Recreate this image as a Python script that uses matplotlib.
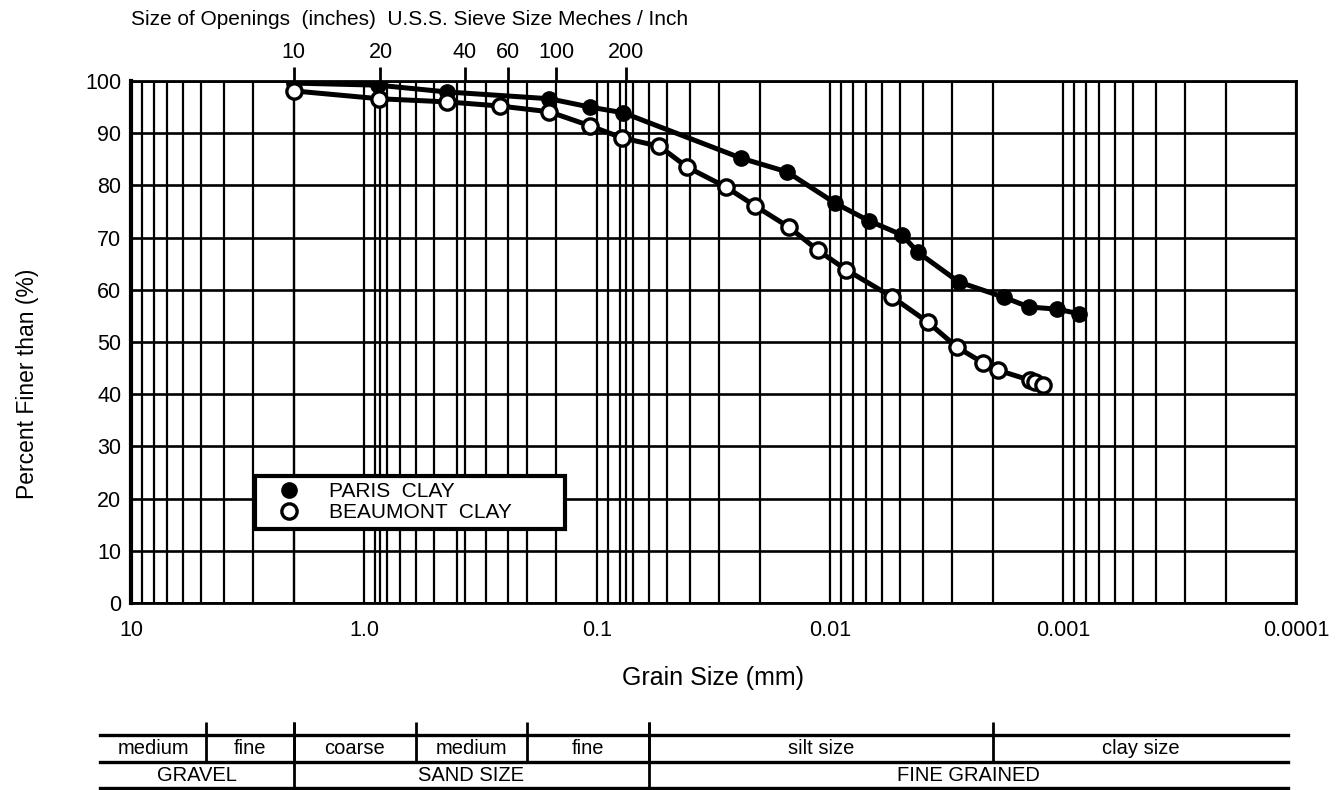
import matplotlib.pyplot as plt
from matplotlib.lines import Line2D
from matplotlib.ticker import LogLocator, NullFormatter, NullLocator

plt.rcParams['font.family'] = ['Liberation Sans', 'DejaVu Sans']

# grain size (mm) vs percent finer for the two clays
paris_mm = [2.0, 0.87, 0.44, 0.16, 0.107, 0.077, 0.024, 0.0153, 0.0095, 0.0068,
            0.0049, 0.0042, 0.0028, 0.0018, 0.0014, 0.00106, 0.00085]
paris_pct = [99.6, 99.2, 97.9, 96.6, 95.0, 93.9, 85.2, 82.6, 76.6, 73.2,
             70.5, 67.2, 61.5, 58.6, 56.7, 56.3, 55.4]

beaumont_mm = [2.0, 0.86, 0.44, 0.26, 0.16, 0.107, 0.078, 0.054, 0.041, 0.028,
               0.021, 0.015, 0.0113, 0.0085, 0.0054, 0.0038, 0.00285, 0.0022,
               0.0019, 0.00139, 0.00132, 0.00122]
beaumont_pct = [98.1, 96.6, 96.0, 95.2, 94.1, 91.4, 89.1, 87.5, 83.5, 79.7,
                76.1, 72.0, 67.6, 63.8, 58.6, 53.8, 49.0, 46.0,
                44.6, 42.7, 42.3, 41.8]

# U.S.S. sieve numbers and their openings (mm)
sieve_numbers = ['10', '20', '40', '60', '100', '200']
sieve_mm = [2.0, 0.85, 0.37, 0.24, 0.15, 0.075]

x_ticks = [10, 1, 0.1, 0.01, 0.001, 0.0001]
x_tick_labels = ['10', '1.0', '0.1', '0.01', '0.001', '0.0001']
y_ticks = list(range(0, 101, 10))

# soil classification bands under the chart
sub_bounds = [13.6, 4.75, 2.0, 0.6, 0.2, 0.06, 0.002, 1.08e-4]
sub_labels = ['medium', 'fine', 'coarse', 'medium', 'fine', 'silt size', 'clay size']
main_bounds = [13.6, 2.0, 0.06, 1.08e-4]
main_labels = ['GRAVEL', 'SAND SIZE', 'FINE GRAINED']

fig = plt.figure(figsize=(13.38, 7.90), dpi=100)
ax = fig.add_axes([131 / 1338, 1 - 603 / 790, 1165 / 1338, 522 / 790])

ax.set_xscale('log')
ax.set_xlim(10, 0.0001)
ax.set_ylim(0, 100)

ax.xaxis.set_major_locator(LogLocator(base=10, numticks=10))
ax.xaxis.set_minor_locator(LogLocator(base=10, subs=range(2, 10), numticks=20))
ax.xaxis.set_minor_formatter(NullFormatter())
ax.set_xticks(x_ticks, labels=x_tick_labels)
ax.set_yticks(y_ticks)

ax.grid(True, which='both', axis='x', color='black', lw=1.6)
ax.grid(True, which='major', axis='y', color='black', lw=1.9)
for s in sieve_mm:
    ax.axvline(s, color='black', lw=1.6, zorder=1.5)

ax.tick_params(axis='x', which='both', length=0, pad=12, labelsize=15.5)
ax.tick_params(axis='y', length=0, pad=7, labelsize=15.5)
for side in ['top', 'right', 'bottom']:
    ax.spines[side].set_linewidth(2)
ax.spines['left'].set_linewidth(3)

ax.plot(paris_mm, paris_pct, color='black', lw=3.6, marker='o', ms=11,
        mfc='black', mec='black', zorder=3)
ax.plot(beaumont_mm, beaumont_pct, color='black', lw=3.6, marker='o', ms=11,
        mfc='white', mec='black', mew=2.4, zorder=3)

ax.set_xlabel('Grain Size (mm)', fontsize=18, labelpad=18)
ax.set_ylabel('Percent Finer than (%)', fontsize=16.5)
ax.yaxis.set_label_coords(-0.079, 0.42)

# sieve numbers along the top
sec = ax.secondary_xaxis('top')
sec.set_xticks(sieve_mm, labels=sieve_numbers)
sec.xaxis.set_minor_locator(NullLocator())
sec.tick_params(axis='x', direction='out', length=10, width=2, pad=3, labelsize=15.5)
sec.spines['top'].set_visible(False)
sec.set_xlabel('Size of Openings  (inches)  U.S.S. Sieve Size Meches / Inch',
               loc='left', fontsize=15, labelpad=12)

handles = [
    Line2D([], [], ls='none', marker='o', ms=11, mfc='black', mec='black'),
    Line2D([], [], ls='none', marker='o', ms=11, mfc='white', mec='black', mew=2.4),
]
leg = ax.legend(handles, ['PARIS  CLAY', 'BEAUMONT  CLAY'], loc='upper left',
                bbox_to_anchor=(0.1064, 0.14, 0.266, 0.1034), mode='expand',
                borderaxespad=0, fontsize=15, fancybox=False, framealpha=1,
                edgecolor='black', borderpad=0.3, labelspacing=0.1,
                handlelength=2.7, handletextpad=0.55)
leg.get_frame().set_linewidth(3)

# classification table
ax_t = fig.add_axes([131 / 1338, 0, 1165 / 1338, 70 / 790])
ax_t.set_xscale('log')
ax_t.set_xlim(10, 0.0001)
ax_t.set_ylim(0, 1)
ax_t.axis('off')

left, right = sub_bounds[0], sub_bounds[-1]
for y in [0.786, 0.4, 0.029]:
    ax_t.plot([left, right], [y, y], color='black', lw=2.4, clip_on=False)
ax_t.vlines(sub_bounds[1:-1], 0.4, 0.971, color='black', lw=2, clip_on=False)
ax_t.vlines(main_bounds[1:-1], 0.029, 0.971, color='black', lw=2, clip_on=False)

for a, b, lab in zip(sub_bounds[:-1], sub_bounds[1:], sub_labels):
    ax_t.text((a * b) ** 0.5, 0.6, lab, ha='center', va='center', fontsize=14.5)
for a, b, lab in zip(main_bounds[:-1], main_bounds[1:], main_labels):
    ax_t.text((a * b) ** 0.5, 0.214, lab, ha='center', va='center', fontsize=14.5)

fig.savefig('out.png', dpi=100)
